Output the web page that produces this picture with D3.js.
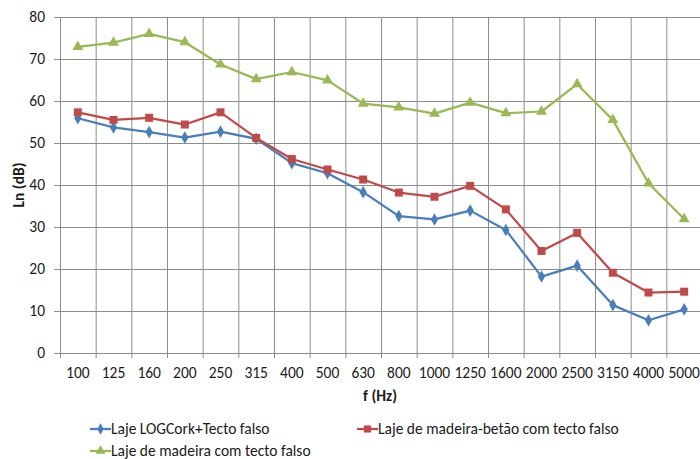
<!DOCTYPE html>
<html>
<head>
<meta charset="utf-8">
<script src="https://cdn.jsdelivr.net/npm/d3@7"></script>
<style>
  body { margin: 0; background: #fff; }
  svg { display: block; font-family: Carlito, Lato, 'Liberation Sans', sans-serif; }
</style>
</head>
<body>
<div id="chart"></div>
<script>
const categories = ['100', '125', '160', '200', '250', '315', '400', '500', '630', '800',
  '1000', '1250', '1600', '2000', '2500', '3150', '4000', '5000']

const logCork = [55.9, 53.7, 52.6, 51.3, 52.7, 51.0, 45.2, 42.8, 38.3, 32.6,
  31.8, 33.9, 29.3, 18.2, 20.8, 11.4, 7.8, 10.4]
const madeiraBetao = [57.3, 55.5, 56.0, 54.4, 57.3, 51.2, 46.2, 43.7, 41.3, 38.2,
  37.2, 39.8, 34.2, 24.3, 28.6, 19.1, 14.4, 14.6]
const madeira = [72.9, 73.9, 76.0, 74.0, 68.7, 65.2, 66.9, 64.9, 59.4, 58.5,
  57.0, 59.6, 57.1, 57.5, 64.0, 55.5, 40.4, 31.9]

const yTicks = [0, 10, 20, 30, 40, 50, 60, 70, 80]

const series = [
  { name: 'Laje LOGCork+Tecto falso', values: logCork, color: '#4a7ebb', marker: d3.symbolDiamond, size: 46 },
  { name: 'Laje de madeira-betão com tecto falso', values: madeiraBetao, color: '#be4b48', marker: d3.symbolSquare, size: 64 },
  { name: 'Laje de madeira com tecto falso', values: madeira, color: '#98b954', marker: d3.symbolTriangle, size: 52 }
]

const width = 700
const height = 459
const plot = { left: 60, right: 702, top: 17, bottom: 353 }
const gridColor = '#8c8c8c'
const fontSize = 15.5
const textColor = '#1a1a1a'

const svg = d3.select('#chart').append('svg')
  .attr('width', width)
  .attr('height', height)

const x = d3.scaleBand().domain(categories).range([plot.left, plot.right]).padding(0)
const xEdges = d3.scaleLinear().domain([0, categories.length]).range([plot.left, plot.right])
const y = d3.scaleLinear().domain([0, 80]).range([plot.bottom, plot.top])

// horizontal gridlines + y ticks
const yAxis = svg.append('g')
  .attr('transform', `translate(${plot.left},0)`)
  .call(d3.axisLeft(y).tickValues(yTicks).tickSize(6).tickPadding(9))
yAxis.select('.domain').attr('stroke', gridColor)
yAxis.selectAll('.tick line').attr('stroke', gridColor)
yAxis.selectAll('.tick').append('line')
  .attr('x1', 0).attr('x2', plot.right - plot.left)
  .attr('stroke', gridColor)
yAxis.selectAll('text').attr('font-size', fontSize).attr('fill', textColor)
yAxis.attr('font-family', null)

// vertical gridlines at category boundaries
const edgeAxis = svg.append('g')
  .attr('transform', `translate(0,${plot.bottom})`)
  .call(d3.axisBottom(xEdges).tickValues(d3.range(categories.length + 1)).tickSize(5).tickFormat(''))
edgeAxis.select('.domain').attr('stroke', gridColor)
edgeAxis.selectAll('.tick line').attr('stroke', gridColor)
edgeAxis.selectAll('.tick').append('line')
  .attr('y1', 0).attr('y2', plot.top - plot.bottom)
  .attr('stroke', gridColor)

// category labels
const xAxis = svg.append('g')
  .attr('transform', `translate(0,${plot.bottom})`)
  .call(d3.axisBottom(x).tickSize(0).tickPadding(14))
xAxis.select('.domain').remove()
xAxis.selectAll('text').attr('font-size', fontSize).attr('fill', textColor)
xAxis.attr('font-family', null)

// axis titles
svg.append('text')
  .attr('transform', `translate(24,${(plot.top + plot.bottom) / 2}) rotate(-90)`)
  .attr('text-anchor', 'middle')
  .attr('font-size', fontSize)
  .attr('font-weight', 'bold')
  .attr('fill', textColor)
  .text('Ln (dB)')

svg.append('text')
  .attr('x', 380)
  .attr('y', 401)
  .attr('text-anchor', 'middle')
  .attr('font-size', fontSize)
  .attr('font-weight', 'bold')
  .attr('fill', textColor)
  .text('f (Hz)')

// series
const line = d3.line()
  .x((d, i) => x(categories[i]) + x.bandwidth() / 2)
  .y(d => y(d))

series.forEach(s => {
  const g = svg.append('g')
  g.append('path')
    .datum(s.values)
    .attr('fill', 'none')
    .attr('stroke', s.color)
    .attr('stroke-width', 2.25)
    .attr('stroke-linejoin', 'round')
    .attr('d', line)
  g.selectAll('path.marker')
    .data(s.values)
    .enter()
    .append('path')
    .attr('class', 'marker')
    .attr('d', d3.symbol().type(s.marker).size(s.size))
    .attr('fill', s.color)
    .attr('transform', (d, i) => `translate(${x(categories[i]) + x.bandwidth() / 2},${y(d)})`)
})

// legend
const legendPos = [[90, 429], [357, 429], [90, 451]]
series.forEach((s, i) => {
  const [lx, ly] = legendPos[i]
  const g = svg.append('g').attr('transform', `translate(${lx},${ly})`)
  g.append('line')
    .attr('x1', 0).attr('x2', 21)
    .attr('stroke', s.color)
    .attr('stroke-width', 2.25)
  g.append('path')
    .attr('d', d3.symbol().type(s.marker).size(s.size * 0.8))
    .attr('fill', s.color)
    .attr('transform', 'translate(10.5,0)')
  g.append('text')
    .attr('x', 21)
    .attr('dy', '0.35em')
    .attr('font-size', fontSize)
    .attr('fill', textColor)
    .text(s.name)
})
</script>
</body>
</html>
